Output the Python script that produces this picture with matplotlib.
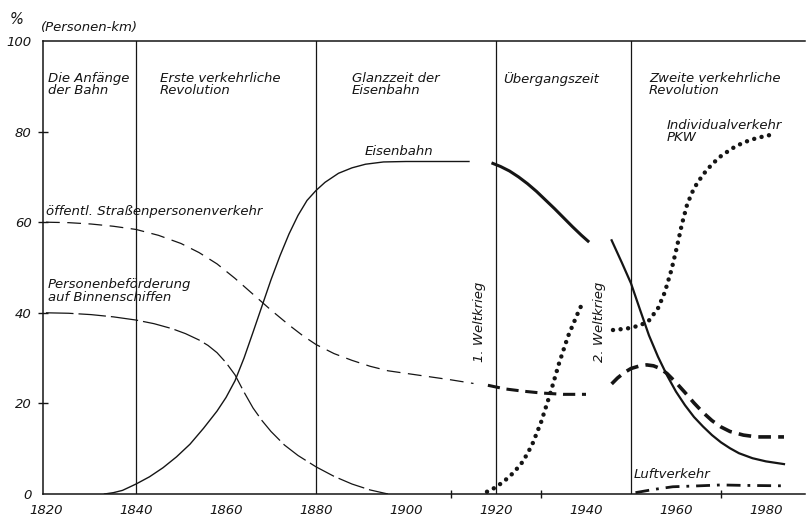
import numpy as np
import matplotlib
matplotlib.use("Agg")
import matplotlib.pyplot as plt

# Anteile am Personenverkehr (%)
bahn1_years = [1833, 1835, 1837, 1840, 1843, 1846, 1849, 1852, 1855, 1858, 1860, 1862, 1864, 1866, 1868, 1870, 1872,
               1874, 1876, 1878, 1880, 1882, 1885, 1888, 1891, 1895, 1900, 1914]
bahn1_vals = [0, 0.3, 0.8, 2.2, 3.8, 5.8, 8.2, 11, 14.5, 18.3, 21.3, 25, 30, 35.7, 41.5, 47.3, 52.6,
              57.4, 61.5, 64.8, 67, 68.8, 70.8, 72, 72.8, 73.3, 73.4, 73.4]
bahn2_years = [1919, 1921, 1923, 1925, 1927, 1929, 1931, 1933, 1935, 1937, 1939, 1940.7]
bahn2_vals = [73.1, 72.3, 71.3, 70.0, 68.5, 66.8, 64.9, 63.0, 61.0, 59.0, 57.1, 55.6]
bahn3_years = [1945.7, 1948, 1950, 1952, 1954, 1956, 1958, 1960, 1962, 1964, 1966, 1968, 1970, 1972, 1974, 1977, 1980, 1984]
bahn3_vals = [56, 51, 46.5, 40.7, 35, 30.3, 26.2, 22.6, 19.6, 17, 14.9, 13, 11.4, 10.1, 9, 7.9, 7.2, 6.6]

strasse1_years = [1820, 1825, 1830, 1835, 1840, 1845, 1850, 1854, 1858, 1862, 1866, 1870, 1874, 1877, 1880, 1884,
                  1888, 1892, 1896, 1903, 1910, 1915]
strasse1_vals = [60, 59.9, 59.6, 59.1, 58.4, 57.1, 55.3, 53.3, 50.8, 47.6, 44.1, 40.6, 37.3, 35, 33, 31,
                 29.5, 28.2, 27.2, 26.2, 25.2, 24.4]
strasse2_years = [1918.2, 1922, 1926, 1930, 1935, 1940]
strasse2_vals = [24, 23.2, 22.7, 22.3, 22, 22]
strasse3_years = [1945.7, 1947, 1948.5, 1950, 1952, 1953.5, 1955, 1956.5, 1958, 1960, 1962, 1964, 1966, 1968, 1970,
                  1972, 1975, 1978, 1984]
strasse3_vals = [24.3, 25.6, 26.8, 27.7, 28.3, 28.5, 28.3, 27.7, 26.6, 24.6, 22.4, 20.1, 18, 16.2, 14.8,
                 13.8, 13, 12.6, 12.6]

schiff_years = [1820, 1825, 1830, 1835, 1840, 1844, 1848, 1851, 1854, 1856, 1858, 1860, 1862, 1864, 1866, 1868,
                1870, 1873, 1876, 1880, 1884, 1888, 1892, 1896]
schiff_vals = [40, 39.9, 39.6, 39.1, 38.4, 37.6, 36.5, 35.4, 34, 32.8, 31.2, 29, 26.3, 22.5, 19, 16.2,
               13.8, 10.8, 8.5, 6, 3.9, 2.2, 0.9, 0]

pkw1_years = [1918, 1920, 1922, 1924, 1926, 1928, 1930, 1932, 1934, 1936, 1938, 1939]
pkw1_vals = [0.5, 1.5, 3, 4.8, 7.2, 10.8, 15.8, 22, 28.8, 34.8, 39.5, 41.7]
pkw2_years = [1946, 1949, 1952, 1954, 1956, 1957.5, 1959, 1960.2, 1961.3, 1962.5, 1964, 1966, 1968, 1970, 1972.5,
              1975, 1978, 1981.6]
pkw2_vals = [36.2, 36.5, 37.2, 38.3, 41, 44.5, 49.5, 54.5, 59.5, 64, 67.5, 70.5, 72.8, 74.6, 76.3,
             77.6, 78.6, 79.4]

luft_years = [1951, 1955, 1959.3, 1965, 1970, 1975, 1984.6]
luft_vals = [0.3, 1, 1.6, 1.8, 2, 1.9, 1.8]

epoch_lines = [1840, 1880, 1920, 1950]
x_labels = [1820, 1840, 1860, 1880, 1900, 1920, 1940, 1960, 1980]
x_minor = [1860, 1900, 1910, 1920, 1930, 1940, 1960, 1970, 1980]
y_ticks = [0, 20, 40, 60, 80, 100]

ink = "#151515"
font = dict(family="DejaVu Sans", style="italic", color=ink)
fs = 9.5

fig = plt.figure(figsize=(8.07, 5.20), dpi=100)
ax = fig.add_axes([43 / 807, 1 - 494 / 520, (805 - 43) / 807, (494 - 41) / 520])
ax.set_xlim(1819.33, 1988.67)
ax.set_ylim(0, 100)

for yr in epoch_lines:
    ax.plot([yr, yr], [0, 100], color=ink, lw=0.9)

# Eisenbahn
ax.plot(bahn1_years, bahn1_vals, color=ink, lw=1.0)
ax.plot(bahn2_years, bahn2_vals, color=ink, lw=2.2, solid_capstyle="butt")
ax.plot(bahn3_years, bahn3_vals, color=ink, lw=1.6)

# oeffentl. Strassenpersonenverkehr
ax.plot(strasse1_years, strasse1_vals, color=ink, lw=0.9, linestyle=(0, (11, 6)))
ax.plot(strasse2_years, strasse2_vals, color=ink, lw=2.2, linestyle=(0, (4, 2.2)))
ax.plot(strasse3_years, strasse3_vals, color=ink, lw=2.6, linestyle=(0, (3.5, 2)))

# Binnenschiffe
ax.plot(schiff_years, schiff_vals, color=ink, lw=0.9, linestyle=(0, (22, 4)))

# PKW
ax.plot(pkw1_years, pkw1_vals, color=ink, lw=3.2, linestyle=(0, (0.01, 1.7)), dash_capstyle="round")
ax.plot(pkw2_years, pkw2_vals, color=ink, lw=3.2, linestyle=(0, (0.01, 1.7)), dash_capstyle="round")

# Luftverkehr
ax.plot(luft_years, luft_vals, color=ink, lw=2.0, linestyle=(0, (5, 2.5, 1, 2.5)))

ax.spines["right"].set_visible(False)
for s in ["left", "bottom", "top"]:
    ax.spines[s].set_linewidth(1.1)
    ax.spines[s].set_color(ink)

ax.set_xticks(x_labels)
ax.set_xticklabels([str(v) for v in x_labels], fontsize=fs, **font)
ax.set_xticks(x_minor, minor=True)
ax.tick_params(axis="x", which="major", length=0, pad=7)
ax.tick_params(axis="x", which="minor", direction="inout", length=6, width=1, color=ink)
ax.set_yticks(y_ticks)
ax.set_yticklabels([str(v) for v in y_ticks], fontsize=fs, **font)
ax.tick_params(axis="y", direction="inout", length=6.5, width=1, color=ink, pad=5)
ax.yaxis.get_major_ticks()[0].tick1line.set_visible(False)
ax.yaxis.get_major_ticks()[-1].tick1line.set_visible(False)

fig.text(17 / 807, 1 - 19 / 520, "%", ha="center", va="center", fontsize=10.5, **font)
fig.text(41 / 807, 1 - 28 / 520, "(Personen-km)", ha="left", va="center", fontsize=fs, **font)

top = 93.2
ax.text(1820.4, top, "Die Anfänge\nder Bahn", ha="left", va="top", fontsize=fs, linespacing=0.95, **font)
ax.text(1845.3, top, "Erste verkehrliche\nRevolution", ha="left", va="top", fontsize=fs, linespacing=0.95, **font)
ax.text(1888, top, "Glanzzeit der\nEisenbahn", ha="left", va="top", fontsize=fs, linespacing=0.95, **font)
ax.text(1921.6, top, "Übergangszeit", ha="left", va="top", fontsize=fs, **font)
ax.text(1954, top, "Zweite verkehrliche\nRevolution", ha="left", va="top", fontsize=fs, linespacing=0.95, **font)
ax.text(1958, 82.8, "Individualverkehr\nPKW", ha="left", va="top", fontsize=fs, linespacing=0.95, **font)
ax.text(1890.9, 74.2, "Eisenbahn", ha="left", va="bottom", fontsize=fs, **font)
ax.text(1820.1, 62.3, "öffentl. Straßenpersonenverkehr", ha="left", va="center", fontsize=fs, **font)
ax.text(1820.4, 47.6, "Personenbeförderung\nauf Binnenschiffen", ha="left", va="top", fontsize=fs, linespacing=0.95, **font)
ax.text(1916.4, 38, "1. Weltkrieg", rotation=90, ha="center", va="center", fontsize=fs, **font)
ax.text(1943, 38, "2. Weltkrieg", rotation=90, ha="center", va="center", fontsize=fs, **font)
ax.text(1950.5, 4.2, "Luftverkehr", ha="left", va="center", fontsize=fs, **font)

fig.savefig("out.png", dpi=100)
